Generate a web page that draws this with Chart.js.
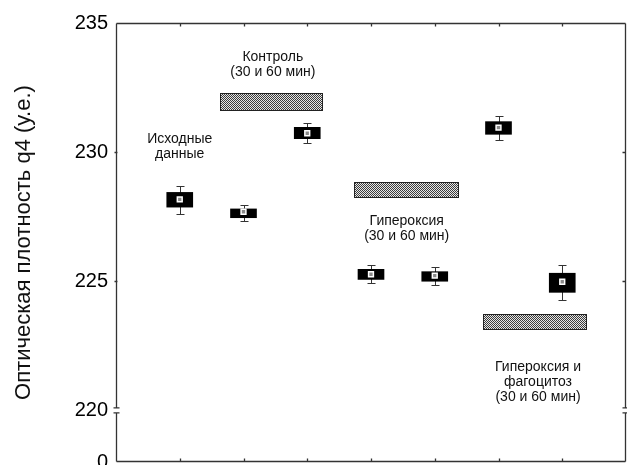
<!DOCTYPE html>
<html>
<head>
<meta charset="utf-8">
<script src="https://cdn.jsdelivr.net/npm/chart.js@4.4.0/dist/chart.umd.min.js"></script>
<style>
html, body { margin: 0; padding: 0; background: #fff; }
#wrap { width: 627px; height: 465px; }
</style>
</head>
<body>
<div id="wrap"><canvas id="my_graph"></canvas></div>
<script>
// groups along x, one box per group
let groups = [1, 2, 3, 4, 5, 6, 7];
let means = [228.17, 227.69, 230.73, 225.27, 225.22, 230.95, 224.98];
let boxLow = [227.87, 227.46, 230.52, 225.07, 225.00, 230.69, 224.57];
let boxHigh = [228.44, 227.80, 230.96, 225.46, 225.37, 231.18, 225.31];
let whiskLow = [227.61, 227.33, 230.35, 224.92, 224.85, 230.47, 224.26];
let whiskHigh = [228.70, 227.94, 231.12, 225.64, 225.54, 231.41, 225.63];

// hatched bars for the experiment periods
let periodStart = [1.63, 3.73, 5.75];
let periodEnd = [3.23, 5.36, 7.38];
let periodLow = [231.64, 228.26, 223.15];
let periodHigh = [232.28, 228.84, 223.75];

// y axis is broken: the bottom value 218 is shown as 0
let yTicks = [218, 220, 225, 230, 235];
let yTickLabels = ['0', '220', '225', '230', '235'];
let sideTicks = [220, 225, 230];
let breakAt = 220;

// text notes, anchored in data space (x group, y of first line)
let noteText = [
    ['Исходные', 'данные'],
    ['Контроль', '(30 и 60 мин)'],
    ['Гипероксия', '(30 и 60 мин)'],
    ['Гипероксия и', 'фагоцитоз', '(30 и 60 мин)']
];
let noteX = [1.0, 2.46, 4.56, 6.62];
let noteY = [230.5, 233.69, 227.33, 221.69];

const FONT = "'Liberation Sans', Arial, sans-serif";

var ctx = document.getElementById('my_graph').getContext('2d');

let patCanvas = document.createElement('canvas');
patCanvas.width = 2;
patCanvas.height = 2;
let pctx = patCanvas.getContext('2d');
pctx.fillStyle = '#e6e6e6';
pctx.fillRect(0, 0, 2, 2);
pctx.fillStyle = '#3c3c3c';
pctx.fillRect(0, 0, 1, 1);
pctx.fillRect(1, 1, 1, 1);
let hatch = ctx.createPattern(patCanvas, 'repeat');

let decor = {
    id: 'decor',
    beforeDatasetsDraw(chart) {
        const c = chart.ctx, xs = chart.scales.x, ys = chart.scales.y;
        c.save();
        // hatched period bars
        periodStart.forEach((s, i) => {
            let x1 = Math.round(xs.getPixelForValue(s)) + 0.5;
            let x2 = Math.round(xs.getPixelForValue(periodEnd[i])) + 0.5;
            let y1 = Math.round(ys.getPixelForValue(periodHigh[i])) + 0.5;
            let y2 = Math.round(ys.getPixelForValue(periodLow[i])) + 0.5;
            c.fillStyle = hatch;
            c.fillRect(x1, y1, x2 - x1, y2 - y1);
            c.strokeStyle = '#222';
            c.lineWidth = 1;
            c.strokeRect(x1, y1, x2 - x1, y2 - y1);
        });
        // whiskers
        c.strokeStyle = '#333';
        c.lineWidth = 1;
        groups.forEach((g, i) => {
            let x = Math.round(xs.getPixelForValue(g)) + 0.5;
            let yt = Math.round(ys.getPixelForValue(whiskHigh[i])) + 0.5;
            let yb = Math.round(ys.getPixelForValue(whiskLow[i])) + 0.5;
            c.beginPath();
            c.moveTo(x, yt); c.lineTo(x, yb);
            c.moveTo(x - 4, yt); c.lineTo(x + 4, yt);
            c.moveTo(x - 4, yb); c.lineTo(x + 4, yb);
            c.stroke();
        });
        c.restore();
    },
    afterDraw(chart) {
        const c = chart.ctx, xs = chart.scales.x, ys = chart.scales.y;
        const a = chart.chartArea;
        c.save();
        c.strokeStyle = '#333';
        c.lineWidth = 1.3;
        let L = a.left + 0.5, R = a.right - 0.5, T = a.top + 0.5, B = a.bottom - 0.5;
        let yb = ys.getPixelForValue(breakAt);
        c.beginPath();
        c.moveTo(L, T); c.lineTo(R, T);
        c.moveTo(L, B); c.lineTo(R, B);
        // left and right sides with a gap at the break
        c.moveTo(L, T); c.lineTo(L, yb - 2.5);
        c.moveTo(L, yb + 2.5); c.lineTo(L, B);
        c.moveTo(R, T); c.lineTo(R, yb - 2.5);
        c.moveTo(R, yb + 2.5); c.lineTo(R, B);
        // break marks
        [L, R].forEach(px => {
            c.moveTo(px - 3, yb - 2.5); c.lineTo(px + 3, yb - 2.5);
            c.moveTo(px - 3, yb + 2.5); c.lineTo(px + 3, yb + 2.5);
        });
        // inward ticks
        groups.forEach(g => {
            let x = Math.round(xs.getPixelForValue(g)) + 0.5;
            c.moveTo(x, T); c.lineTo(x, T + 3);
            c.moveTo(x, B); c.lineTo(x, B - 3);
        });
        sideTicks.forEach(v => {
            if (v === breakAt) return;
            let y = Math.round(ys.getPixelForValue(v)) + 0.5;
            c.moveTo(L - 2, y); c.lineTo(L + 1, y);
            c.moveTo(R, y); c.lineTo(R - 3, y);
        });
        c.stroke();

        // notes
        c.fillStyle = '#111';
        c.font = '14px ' + FONT;
        c.textAlign = 'center';
        c.textBaseline = 'middle';
        noteText.forEach((lines, i) => {
            let x = xs.getPixelForValue(noteX[i]);
            let y = ys.getPixelForValue(noteY[i]);
            lines.forEach((t, j) => c.fillText(t, x, y + j * 15));
        });
        c.restore();
    }
};

var my_graph = new Chart(ctx, {
    type: 'bar',
    data: {
        datasets: [{
                type: 'bar',
                label: 'box',
                data: groups.map((g, i) => ({x: g, y: [boxLow[i], boxHigh[i]]})),
                backgroundColor: '#000',
                borderWidth: 0,
                barThickness: 26,
                grouped: false,
                order: 2
            }, {
                type: 'scatter',
                label: 'mean',
                data: groups.map((g, i) => ({x: g, y: means[i]})),
                pointStyle: 'rect',
                radius: 3.4,
                backgroundColor: '#8a8a8a',
                borderColor: '#fff',
                borderWidth: 1.5,
                order: 1
            }
        ]
    },
    options: {
        animation: false,
        responsive: true,
        maintainAspectRatio: false,
        layout: {
            autoPadding: false,
            padding: {left: 0, top: 23, right: 1, bottom: 3}
        },
        plugins: {
            legend: {display: false},
            tooltip: {enabled: false}
        },
        scales: {
            x: {
                type: 'linear',
                min: 0,
                max: 8,
                offset: false,
                display: false
            },
            y: {
                min: 218,
                max: 235,
                beginAtZero: false,
                afterBuildTicks: s => { s.ticks = yTicks.map(v => ({value: v})); },
                afterFit: s => { s.width = 116; s.paddingTop = 0; s.paddingBottom = 0; },
                grid: {display: false, drawTicks: false, tickLength: 0},
                border: {display: false},
                ticks: {
                    padding: 8,
                    color: '#000',
                    font: {family: FONT, size: 20},
                    callback: (v, i) => yTickLabels[i]
                },
                title: {
                    display: true,
                    text: 'Оптическая плотность q4 (у.е.)',
                    color: '#111',
                    font: {family: FONT, size: 22},
                    padding: {top: 11, bottom: 0}
                }
            }
        }
    },
    plugins: [decor]
});
</script>
</body>
</html>
